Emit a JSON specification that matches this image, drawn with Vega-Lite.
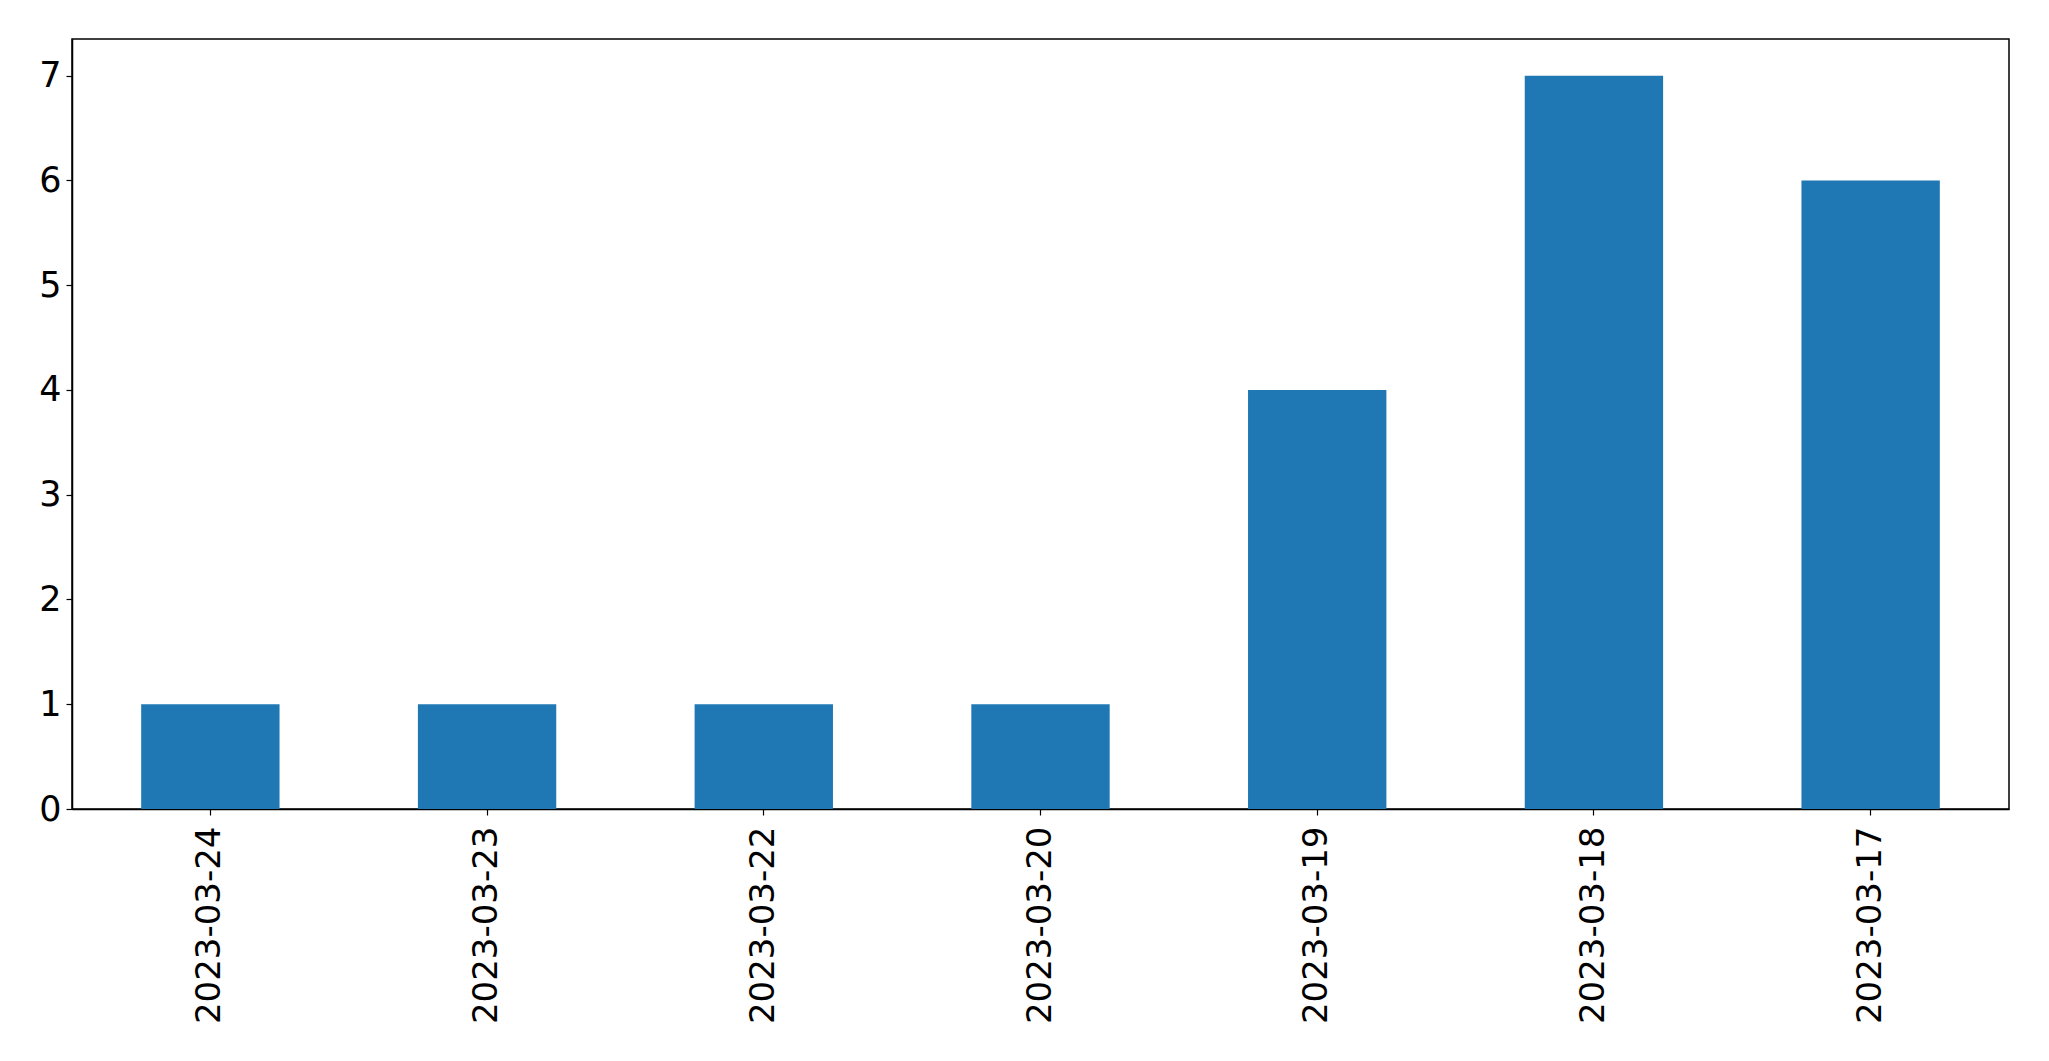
{
  "$schema": "https://vega.github.io/schema/vega-lite/v6.json",
  "autosize": {"type": "none"},
  "width": 1937,
  "height": 770,
  "padding": {"left": 72, "top": 39, "right": 40, "bottom": 252},
  "background": "white",
  "data": {"values": [
    {"date": "2023-03-24", "count": 1},
    {"date": "2023-03-23", "count": 1},
    {"date": "2023-03-22", "count": 1},
    {"date": "2023-03-20", "count": 1},
    {"date": "2023-03-19", "count": 4},
    {"date": "2023-03-18", "count": 7},
    {"date": "2023-03-17", "count": 6}
  ]},
  "mark": {"type": "bar", "color": "#1f77b4"},
  "encoding": {
    "x": {
      "field": "date", "type": "nominal", "sort": null,
      "scale": {"paddingInner": 0.5, "paddingOuter": 0.25},
      "axis": {"title": null, "labelAngle": -90, "labelFontSize": 34, "labelFont": "DejaVu Sans", "labelColor": "black", "labelLimit": 0,
               "tickSize": 6, "tickColor": "black", "tickWidth": 1.2, "labelPadding": 11, "domainColor": "black", "domainWidth": 1.5}
    },
    "y": {
      "field": "count", "type": "quantitative",
      "scale": {"domain": [0, 7.35], "nice": false, "zero": true},
      "axis": {"title": null, "values": [0,1,2,3,4,5,6,7], "grid": false, "labelFontSize": 35, "labelFont": "DejaVu Sans", "labelColor": "black",
               "tickSize": 6, "tickColor": "black", "tickWidth": 1.2, "labelPadding": 5, "domainColor": "black", "domainWidth": 1.5}
    }
  },
  "config": {"view": {"stroke": "black", "strokeWidth": 1.5}}
}
